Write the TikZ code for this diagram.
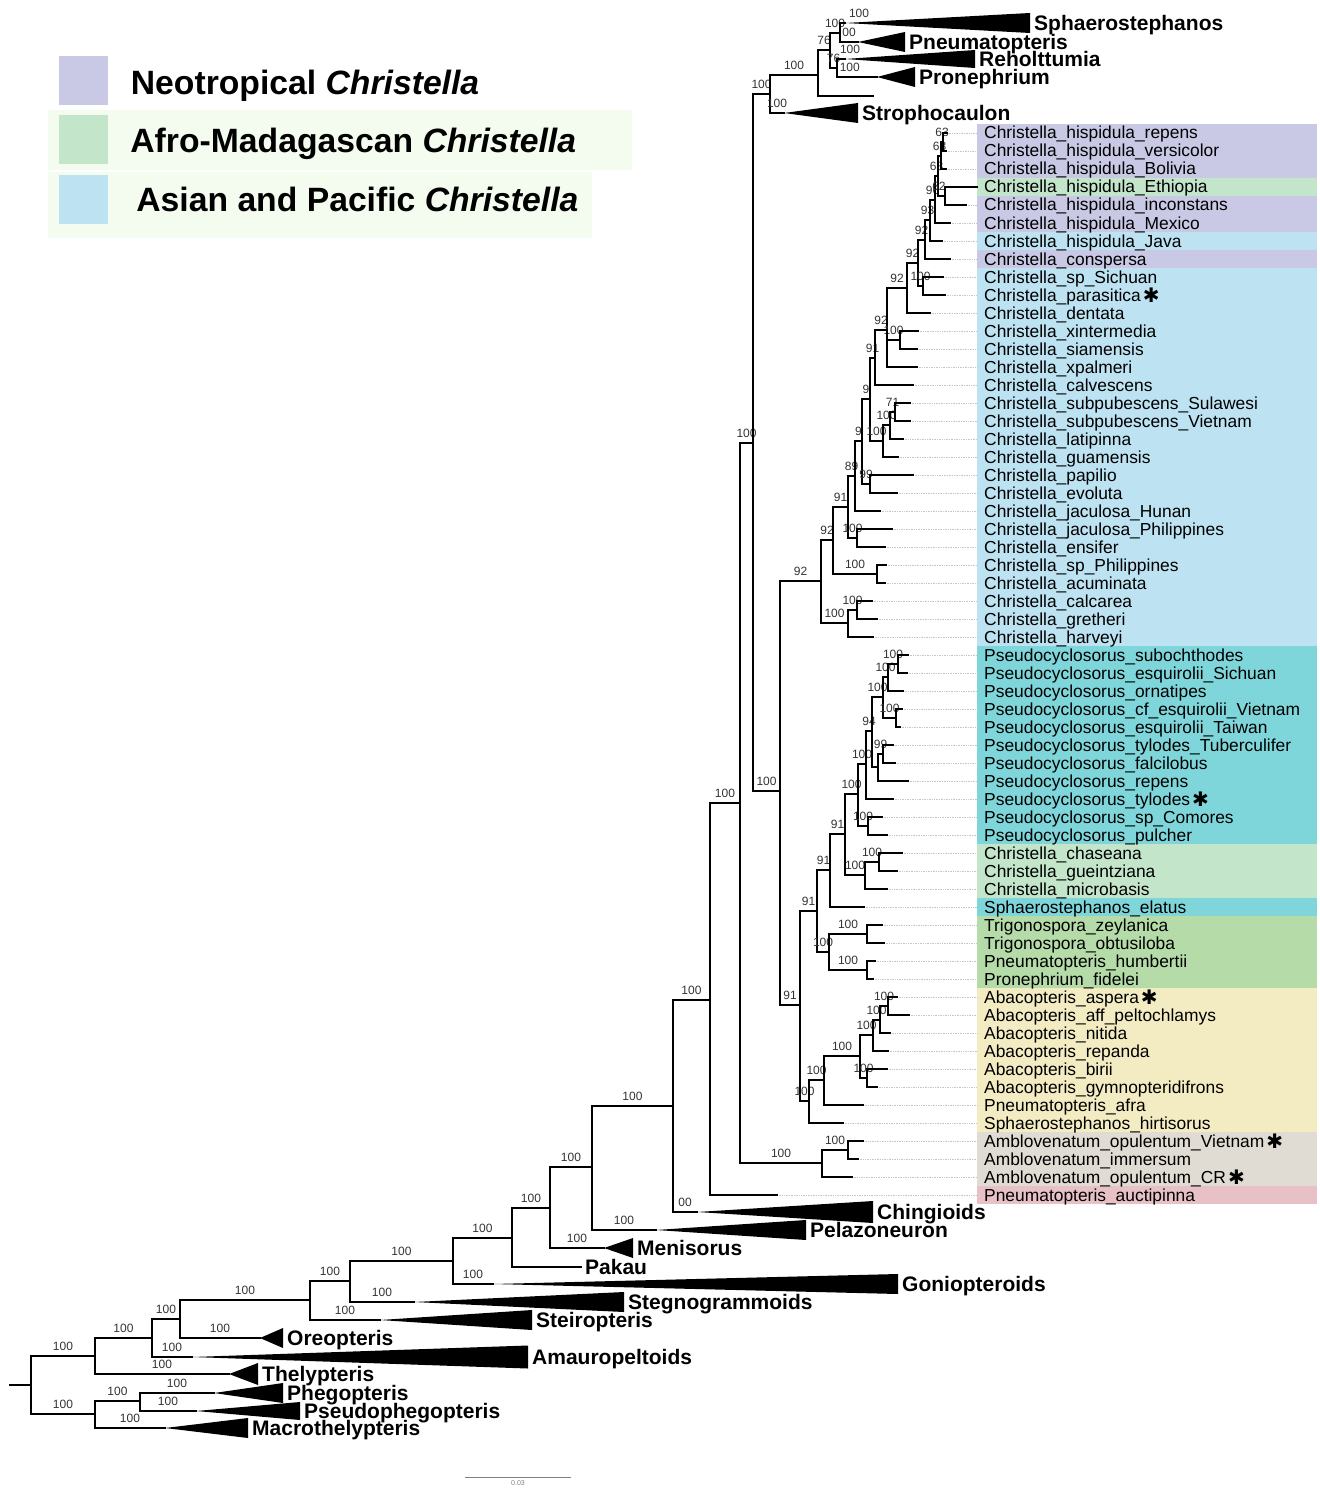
\documentclass[tikz,border=0pt]{standalone}
\usepackage{fontspec}
\setmainfont{Liberation Sans}
\newfontfamily\symfont{DejaVu Sans}
\usetikzlibrary{positioning}

\definecolor{neo}{HTML}{C9C9E5}
\definecolor{afr}{HTML}{C3E6CB}
\definecolor{asi}{HTML}{BDE2F1}
\definecolor{pse}{HTML}{7FD6DA}
\definecolor{tri}{HTML}{B4DBA8}
\definecolor{aba}{HTML}{F3ECC3}
\definecolor{amb}{HTML}{E1DCD3}
\definecolor{pne}{HTML}{E7C1C6}
\definecolor{legbg}{HTML}{F4FBEF}

\tikzset{
    branchline/.style = {line width=2.9pt, line join=miter, line cap=rect, black},
    leader/.style = {gray!45, line width=0.7pt, densely dotted},
    suplab/.style = {above=4pt, inner sep=0pt, font=\fontsize{12}{12}\selectfont, text=black!80},
    tiplab/.style = {anchor=base west, inner sep=0pt, font=\fontsize{17.4}{17.4}\selectfont},
    cladelab/.style = {anchor=base west, inner sep=0pt, font=\fontsize{21}{21}\selectfont\bfseries},
    legtext/.style = {anchor=base west, inner sep=0pt, font=\fontsize{33.7}{33.7}\selectfont\bfseries},
    swatch/.style = {minimum size=49pt, inner sep=0pt},
}

% branch with support value, branch without
\newcommand\br[4][pos=.75]{\draw[branchline] (#2) |- node[suplab,#1] {#4} (#3);}
\newcommand\brn[2]{\draw[branchline] (#1) |- (#2);}
% tip: name, x end, row y, text
\newcommand\tipl[4]{%
  \coordinate (#1) at (#2,#3);
  \coordinate (#1-e) at (977,#3);
  \draw[leader] (#1) -- (#1-e);
  \node[tiplab] (#1-l) at (984,#3+6) {#4};}
% collapsed clade: apex, length, half height, name, text
\newcommand\collapsed[5]{%
  \fill (#1) -- ++(#2,-#3) -- ++(0,2*#3) -- cycle;
  \node[cladelab] (#4) at ([xshift=#2pt+4pt,yshift=-7.5pt]#1) {#5};}
\newcommand\tipstar{\hspace{2pt}\raisebox{-1pt}[0pt][0pt]{\symfont\fontsize{20}{20}\selectfont ✱}}

\begin{document}
\begin{tikzpicture}[x=1pt,y=-1pt]
\useasboundingbox (0,0) rectangle (1319,1490);

% legend
\fill[legbg] (48,110) rectangle (632,170);
\fill[legbg] (48,172) rectangle (592,238);
\node[swatch, fill=neo] (sw1) at (83,80.5) {};
\node[swatch, fill=afr] (sw2) at (83,139.5) {};
\node[swatch, fill=asi] (sw3) at (83,199.5) {};
\node[legtext] (leg1) at ([xshift=23pt,yshift=-14.3pt]sw1.east) {Neotropical \textit{Christella}};
\node[legtext] (leg2) at ([xshift=22.5pt,yshift=-13.3pt]sw2.east) {Afro-Madagascan \textit{Christella}};
\node[legtext] (leg3) at ([xshift=28.5pt,yshift=-12.3pt]sw3.east) {Asian and Pacific \textit{Christella}};

% colour bands
\foreach \ya/\yb/\col in {124/178/neo, 178/196/afr, 196/232/neo, 232/250/asi, 250/268/neo,
    268/646/asi, 646/844/pse, 844/898/afr, 898/916/pse, 916/988/tri, 988/1132/aba,
    1132/1186/amb, 1186/1204/pne}
  \fill[fill=\col] (977,\ya) rectangle (1317,\yb);

% tips
\tipl{r1}{947}{133}{Christella\_hispidula\_repens}
\tipl{r2}{946}{151}{Christella\_hispidula\_versicolor}
\tipl{r3}{946}{169}{Christella\_hispidula\_Bolivia}
\tipl{r4}{977}{187}{Christella\_hispidula\_Ethiopia}
\tipl{r5}{966}{205}{Christella\_hispidula\_inconstans}
\tipl{r6}{950}{223}{Christella\_hispidula\_Mexico}
\tipl{r7}{942}{241}{Christella\_hispidula\_Java}
\tipl{r8}{950}{259}{Christella\_conspersa}
\tipl{r9}{943}{277}{Christella\_sp\_Sichuan}
\tipl{r10}{945}{295}{Christella\_parasitica\tipstar}
\tipl{r11}{930}{313}{Christella\_dentata}
\tipl{r12}{918}{331}{Christella\_xintermedia}
\tipl{r13}{917}{349}{Christella\_siamensis}
\tipl{r14}{917}{367}{Christella\_xpalmeri}
\tipl{r15}{913}{385}{Christella\_calvescens}
\tipl{r16}{910}{403}{Christella\_subpubescens\_Sulawesi}
\tipl{r17}{910}{421}{Christella\_subpubescens\_Vietnam}
\tipl{r18}{903}{439}{Christella\_latipinna}
\tipl{r19}{898}{457}{Christella\_guamensis}
\tipl{r20}{913}{475}{Christella\_papilio}
\tipl{r21}{897}{493}{Christella\_evoluta}
\tipl{r22}{880}{511}{Christella\_jaculosa\_Hunan}
\tipl{r23}{892}{529}{Christella\_jaculosa\_Philippines}
\tipl{r24}{885}{547}{Christella\_ensifer}
\tipl{r25}{886}{565}{Christella\_sp\_Philippines}
\tipl{r26}{885}{583}{Christella\_acuminata}
\tipl{r27}{872}{601}{Christella\_calcarea}
\tipl{r28}{877}{619}{Christella\_gretheri}
\tipl{r29}{873}{637}{Christella\_harveyi}
\tipl{r30}{908}{655}{Pseudocyclosorus\_subochthodes}
\tipl{r31}{907}{673}{Pseudocyclosorus\_esquirolii\_Sichuan}
\tipl{r32}{903}{691}{Pseudocyclosorus\_ornatipes}
\tipl{r33}{902}{709}{Pseudocyclosorus\_cf\_esquirolii\_Vietnam}
\tipl{r34}{900}{727}{Pseudocyclosorus\_esquirolii\_Taiwan}
\tipl{r35}{893}{745}{Pseudocyclosorus\_tylodes\_Tuberculifer}
\tipl{r36}{895}{763}{Pseudocyclosorus\_falcilobus}
\tipl{r37}{908}{781}{Pseudocyclosorus\_repens}
\tipl{r38}{893}{799}{Pseudocyclosorus\_tylodes\tipstar}
\tipl{r39}{882}{817}{Pseudocyclosorus\_sp\_Comores}
\tipl{r40}{887}{835}{Pseudocyclosorus\_pulcher}
\tipl{r41}{902}{853}{Christella\_chaseana}
\tipl{r42}{897}{871}{Christella\_gueintziana}
\tipl{r43}{887}{889}{Christella\_microbasis}
\tipl{r44}{864}{907}{Sphaerostephanos\_elatus}
\tipl{r45}{882}{925}{Trigonospora\_zeylanica}
\tipl{r46}{884}{943}{Trigonospora\_obtusiloba}
\tipl{r47}{875}{961}{Pneumatopteris\_humbertii}
\tipl{r48}{873}{979}{Pronephrium\_fidelei}
\tipl{r49}{897}{997}{Abacopteris\_aspera\tipstar}
\tipl{r50}{909}{1015}{Abacopteris\_aff\_peltochlamys}
\tipl{r51}{890}{1033}{Abacopteris\_nitida}
\tipl{r52}{888}{1051}{Abacopteris\_repanda}
\tipl{r53}{887}{1069}{Abacopteris\_birii}
\tipl{r54}{877}{1087}{Abacopteris\_gymnopteridifrons}
\tipl{r55}{863}{1105}{Pneumatopteris\_afra}
\tipl{r56}{843}{1123}{Sphaerostephanos\_hirtisorus}
\tipl{r57}{863}{1141}{Amblovenatum\_opulentum\_Vietnam\tipstar}
\tipl{r58}{858}{1159}{Amblovenatum\_immersum}
\tipl{r59}{852}{1177}{Amblovenatum\_opulentum\_CR\tipstar}
\tipl{r60}{777}{1195}{Pneumatopteris\_auctipinna}

% internal nodes, backbone
\coordinate (rootstub) at (10,1385);
\coordinate (root) at (31,1385);
\coordinate (n95) at (95,1356);
\coordinate (n95b) at (95,1414);
\coordinate (n140) at (140,1401);
\coordinate (n152) at (152,1338);
\coordinate (n180) at (180,1319);
\coordinate (n310) at (310,1300);
\coordinate (n350) at (350,1281);
\coordinate (n453) at (453,1261);
\coordinate (n512) at (512,1238);
\coordinate (n550) at (550,1208);
\coordinate (n592) at (592,1167);
\coordinate (n673) at (673,1106);
\coordinate (n710) at (710,1000);
\coordinate (n740) at (740,803);
\coordinate (n753) at (753,443);
\coordinate (n780) at (780,791);
\coordinate (nTopG) at (770,94);
\coordinate (nP) at (818,75);
\coordinate (nQ) at (830,50);
\coordinate (nSP) at (840,33);
\coordinate (nRP) at (837,68);
\coordinate (t96) at (873,96);
\coordinate (tPakau) at (581,1267);
\coordinate (nAmb) at (822,1163);
\coordinate (nAmb1) at (848,1150);
% Asian Christella
\coordinate (ChrRoot) at (821,581);
\coordinate (nCL) at (848,623);
\coordinate (nCL1) at (857,610);
\coordinate (nG1) at (833,540);
\coordinate (nPh) at (877,574);
\coordinate (nG2) at (848,507);
\coordinate (nJE) at (857,538);
\coordinate (nH) at (855,476);
\coordinate (nI) at (862,441);
\coordinate (nPE) at (870,484);
\coordinate (nJ) at (870,399);
\coordinate (nTop) at (875,358);
\coordinate (n883) at (883,441);
\coordinate (n890) at (890,425);
\coordinate (n895) at (895,412);
\coordinate (nM) at (887,330);
\coordinate (nQ2) at (900,340);
\coordinate (nL) at (907,288);
\coordinate (nK) at (918,263);
\coordinate (nP2) at (923,286);
\coordinate (nG) at (925,240);
\coordinate (nF) at (930,220);
\coordinate (nE) at (935,200);
\coordinate (nD) at (938,176);
\coordinate (nC) at (945,196);
\coordinate (nB) at (941,156);
\coordinate (nA) at (943,142);
% Pseudocyclosorus, Trigonospora, Abacopteris
\coordinate (nBig) at (800,1005);
\coordinate (nAfr) at (817,911);
\coordinate (nPCS) at (830,870);
\coordinate (nPC) at (845,834);
\coordinate (nPs10) at (858,794);
\coordinate (nPs9) at (868,826);
\coordinate (nPs8) at (866,764);
\coordinate (nPs7) at (872,731);
\coordinate (nPs6) at (878,767);
\coordinate (nPs5) at (883,754);
\coordinate (nPs4) at (883,697);
\coordinate (nPs3) at (896,718);
\coordinate (nPs2) at (888,677);
\coordinate (nPs1) at (898,664);
\coordinate (nCA2) at (865,875);
\coordinate (nCA1) at (879,862);
\coordinate (nTr) at (829,952);
\coordinate (nTr1) at (867,934);
\coordinate (nTr2) at (867,970);
\coordinate (nAb7) at (809,1101);
\coordinate (nAb6) at (824,1080);
\coordinate (nAb5) at (860,1056);
\coordinate (nAb4) at (867,1078);
\coordinate (nAb3) at (873,1035);
\coordinate (nAb2) at (880,1020);
\coordinate (nAb1) at (888,1006);
% collapsed clade apexes
\coordinate (aSph) at (845,23);
\coordinate (aPneu) at (858,42);
\coordinate (aReh) at (845,59);
\coordinate (aPron) at (877,77);
\coordinate (aStroph) at (784,113);
\coordinate (aChing) at (697,1212);
\coordinate (aPela) at (656,1230);
\coordinate (aMeni) at (604,1248);
\coordinate (aGonio) at (493,1284);
\coordinate (aStegno) at (414,1302);
\coordinate (aSteiro) at (380,1320);
\coordinate (aOreo) at (260,1338);
\coordinate (aAmau) at (192,1357);
\coordinate (aThely) at (229,1374);
\coordinate (aPheg) at (214,1393);
\coordinate (aPseudoph) at (196,1411);
\coordinate (aMacro) at (165,1428);

% backbone
\draw[branchline] (rootstub) -- (root);
\br{root}{n95}{100}
\br{root}{n95b}{100}
\br{n95}{n152}{100}
\br{n95}{aThely}{100}
\br{n95b}{n140}{100}
\br{n95b}{aMacro}{100}
\br{n140}{aPheg}{100}
\br{n140}{aPseudoph}{100}
\br{n152}{n180}{100}
\br{n152}{aAmau}{100}
\br{n180}{n310}{100}
\br{n180}{aOreo}{100}
\br{n310}{n350}{100}
\br{n310}{aSteiro}{100}
\br{n350}{n453}{100}
\br{n350}{aStegno}{100}
\br{n453}{n512}{100}
\br{n453}{aGonio}{100}
\br{n512}{n550}{100}
\brn{n512}{tPakau}
\br{n550}{n592}{100}
\br{n550}{aMeni}{100}
\br{n592}{n673}{100}
\br{n592}{aPela}{100}
\br{n673}{n710}{100}
\br{n673}{aChing}{00}
\br{n710}{n740}{100}
\brn{n710}{r60}
\br{n740}{n753}{100}
\br{n740}{nAmb}{100}
\br{nAmb}{nAmb1}{100}
\brn{nAmb}{r59}
\brn{nAmb1}{r57}
\brn{nAmb1}{r58}
\br{n753}{nTopG}{100}
\br{n753}{n780}{100}
\br{nTopG}{nP}{100}
\br{nTopG}{aStroph}{100}
\br{nP}{nQ}{76}
\brn{nP}{t96}
\br{nQ}{nSP}{100}
\br{nQ}{nRP}{76}
\br[pos=1,xshift=14pt]{nSP}{aSph}{100}
\br{nSP}{aPneu}{00}
\br[pos=1,xshift=5pt]{nRP}{aReh}{100}
\br[pos=.66]{nRP}{aPron}{100}
\br{n780}{ChrRoot}{92}
\br{n780}{nBig}{91}

% Asian and Pacific Christella
\br{ChrRoot}{nG1}{92}
\br{ChrRoot}{nCL}{100}
\br{nCL}{nCL1}{100}
\brn{nCL}{r29}
\brn{nCL1}{r27}
\brn{nCL1}{r28}
\br{nG1}{nG2}{91}
\br{nG1}{nPh}{100}
\brn{nPh}{r25}
\brn{nPh}{r26}
\br{nG2}{nH}{89}
\br{nG2}{nJE}{100}
\brn{nJE}{r23}
\brn{nJE}{r24}
\br{nH}{nI}{9}
\brn{nH}{r22}
\br{nI}{nJ}{9}
\br{nI}{nPE}{99}
\brn{nPE}{r20}
\brn{nPE}{r21}
\br{nJ}{nTop}{91}
\br{nJ}{n883}{100}
\br{n883}{n890}{100}
\brn{n883}{r19}
\br{n890}{n895}{71}
\brn{n890}{r18}
\brn{n895}{r16}
\brn{n895}{r17}
\br{nTop}{nM}{92}
\brn{nTop}{r15}
\br{nM}{nL}{92}
\br{nM}{nQ2}{100}
\brn{nM}{r14}
\brn{nQ2}{r12}
\brn{nQ2}{r13}
\br{nL}{nK}{92}
\brn{nL}{r11}
\br{nK}{nG}{92}
\br{nK}{nP2}{100}
\brn{nP2}{r9}
\brn{nP2}{r10}
\br{nG}{nF}{93}
\brn{nG}{r8}
\br{nF}{nE}{96}
\brn{nF}{r7}
\br{nE}{nD}{63}
\brn{nE}{r6}
\br{nD}{nB}{63}
\br[pos=.57]{nD}{nC}{62}
\brn{nC}{r4}
\brn{nC}{r5}
\br{nB}{nA}{63}
\brn{nB}{r3}
\brn{nA}{r1}
\brn{nA}{r2}

% Pseudocyclosorus and allies
\br{nBig}{nAfr}{91}
\br{nBig}{nAb7}{100}
\br{nAfr}{nPCS}{91}
\br{nAfr}{nTr}{100}
\br{nPCS}{nPC}{91}
\brn{nPCS}{r44}
\br{nPC}{nPs10}{100}
\br{nPC}{nCA2}{100}
\br{nCA2}{nCA1}{100}
\brn{nCA2}{r43}
\brn{nCA1}{r41}
\brn{nCA1}{r42}
\br{nPs10}{nPs8}{100}
\br{nPs10}{nPs9}{100}
\brn{nPs9}{r39}
\brn{nPs9}{r40}
\br{nPs8}{nPs7}{94}
\brn{nPs8}{r38}
\br{nPs7}{nPs4}{100}
\brn{nPs7}{nPs6}
\br{nPs6}{nPs5}{99}
\brn{nPs6}{r37}
\brn{nPs5}{r35}
\brn{nPs5}{r36}
\br{nPs4}{nPs2}{100}
\br{nPs4}{nPs3}{100}
\brn{nPs3}{r33}
\brn{nPs3}{r34}
\br{nPs2}{nPs1}{100}
\brn{nPs2}{r32}
\brn{nPs1}{r30}
\brn{nPs1}{r31}
\br{nTr}{nTr1}{100}
\br{nTr}{nTr2}{100}
\brn{nTr1}{r45}
\brn{nTr1}{r46}
\brn{nTr2}{r47}
\brn{nTr2}{r48}
\br{nAb7}{nAb6}{100}
\brn{nAb7}{r56}
\br{nAb6}{nAb5}{100}
\brn{nAb6}{r55}
\br{nAb5}{nAb3}{100}
\br{nAb5}{nAb4}{100}
\brn{nAb4}{r53}
\brn{nAb4}{r54}
\br{nAb3}{nAb2}{100}
\brn{nAb3}{r52}
\br{nAb2}{nAb1}{100}
\brn{nAb2}{r51}
\brn{nAb1}{r49}
\brn{nAb1}{r50}

% collapsed clades
\collapsed{aSph}{185}{10}{lSph}{Sphaerostephanos}
\collapsed{aPneu}{47}{10}{lPneu}{Pneumatopteris}
\collapsed{aReh}{130}{9}{lReh}{Reholttumia}
\collapsed{aPron}{38}{10}{lPron}{Pronephrium}
\collapsed{aStroph}{74}{10}{lStroph}{Strophocaulon}
\collapsed{aChing}{176}{11}{lChing}{Chingioids}
\collapsed{aPela}{150}{10}{lPela}{Pelazoneuron}
\collapsed{aMeni}{29}{10}{lMeni}{Menisorus}
\collapsed{aGonio}{405}{10}{lGonio}{Goniopteroids}
\collapsed{aStegno}{210}{10}{lStegno}{Stegnogrammoids}
\collapsed{aSteiro}{152}{10}{lSteiro}{Steiropteris}
\collapsed{aOreo}{23}{10}{lOreo}{Oreopteris}
\collapsed{aAmau}{336}{11.5}{lAmau}{Amauropeltoids}
\collapsed{aThely}{29}{11}{lThely}{Thelypteris}
\collapsed{aPheg}{69}{10}{lPheg}{Phegopteris}
\collapsed{aPseudoph}{104}{9}{lPseudoph}{Pseudophegopteris}
\collapsed{aMacro}{83}{10}{lMacro}{Macrothelypteris}
\node[cladelab] (lPakau) at ([xshift=4pt,yshift=-7.5pt]tPakau) {Pakau};

% scale bar
\coordinate (sbA) at (465,1477);
\coordinate (sbB) at (571,1477);
\draw[gray, line width=1pt] (sbA) -- (sbB)
  node[midway, below=3pt, inner sep=0pt, font=\fontsize{7}{7}\selectfont, text=gray] (sbl) {0.03};

\end{tikzpicture}
\end{document}
